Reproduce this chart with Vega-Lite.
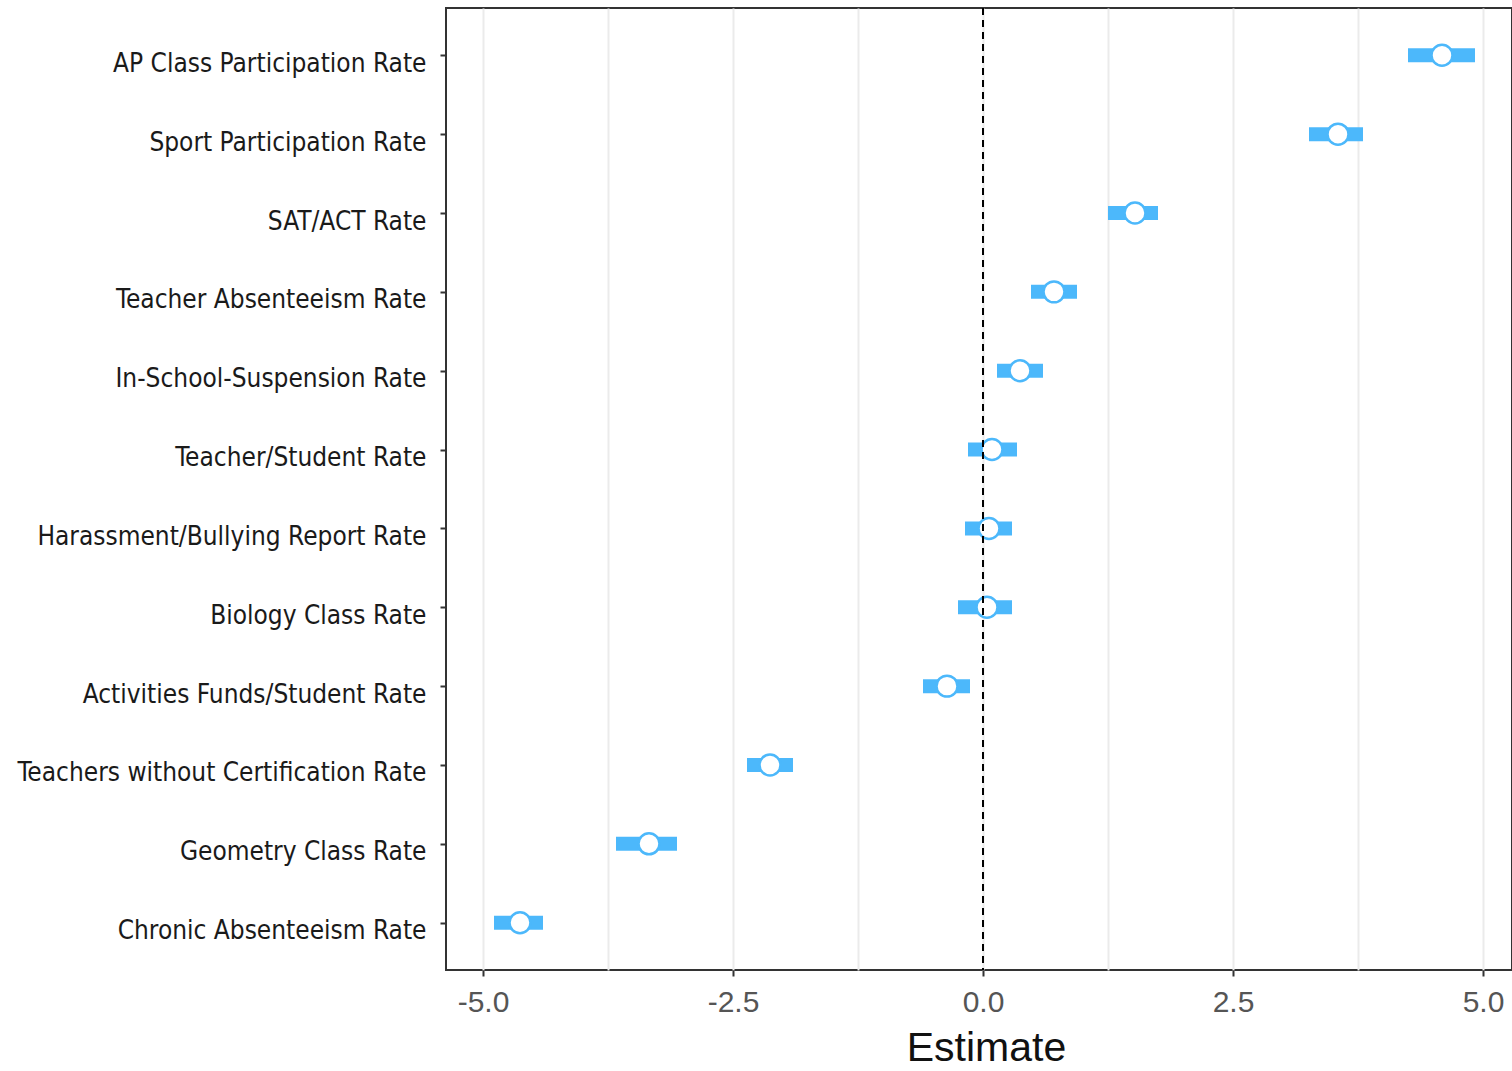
{
  "$schema": "https://vega.github.io/schema/vega-lite/v6.json",
  "autosize": {"type": "none"},
  "padding": {"left": 446, "top": 8, "right": 0, "bottom": 101},
  "width": 1066,
  "height": 962,
  "background": "white",
  "config": {
    "view": {"stroke": "#333333", "strokeWidth": 2}
  },
  "data": {
    "values": [
      {"variable": "AP Class Participation Rate", "estimate": 4.59, "lower": 4.25, "upper": 4.92},
      {"variable": "Sport Participation Rate", "estimate": 3.55, "lower": 3.26, "upper": 3.80},
      {"variable": "SAT/ACT Rate", "estimate": 1.52, "lower": 1.25, "upper": 1.75},
      {"variable": "Teacher Absenteeism Rate", "estimate": 0.71, "lower": 0.48, "upper": 0.94},
      {"variable": "In-School-Suspension Rate", "estimate": 0.37, "lower": 0.14, "upper": 0.60},
      {"variable": "Teacher/Student Rate", "estimate": 0.09, "lower": -0.15, "upper": 0.34},
      {"variable": "Harassment/Bullying Report Rate", "estimate": 0.06, "lower": -0.18, "upper": 0.29},
      {"variable": "Biology Class Rate", "estimate": 0.04, "lower": -0.25, "upper": 0.29},
      {"variable": "Activities Funds/Student Rate", "estimate": -0.36, "lower": -0.60, "upper": -0.13},
      {"variable": "Teachers without Certification Rate", "estimate": -2.13, "lower": -2.36, "upper": -1.90},
      {"variable": "Geometry Class Rate", "estimate": -3.34, "lower": -3.67, "upper": -3.06},
      {"variable": "Chronic Absenteeism Rate", "estimate": -4.63, "lower": -4.89, "upper": -4.40}
    ]
  },
  "encoding": {
    "y": {
      "field": "variable",
      "type": "nominal",
      "sort": null,
      "scale": {"type": "point", "padding": 0.6},
      "axis": {
        "title": null,
        "domain": false,
        "ticks": true,
        "tickSize": 6,
        "tickWidth": 2,
        "tickColor": "#333333",
        "labelFont": "DejaVu Sans Condensed",
        "labelFontSize": 26,
        "labelColor": "#1a1a1a",
        "labelPadding": 14,
        "labelOffset": 8,
        "labelLimit": 0,
        "grid": false
      }
    }
  },
  "layer": [
    {
      "mark": {"type": "rule", "strokeWidth": 14, "strokeCap": "butt", "color": "#4cb8fb"},
      "encoding": {
        "x": {
          "field": "lower",
          "type": "quantitative",
          "scale": {"domain": [-5.37, 5.29], "nice": false, "zero": false},
          "axis": {
            "title": "Estimate",
            "titleFont": "Liberation Sans",
            "titleFontSize": 41,
            "titleFontWeight": "normal",
            "titleColor": "#111111",
            "titlePadding": 11,
            "titleX": 540,
            "values": [-5, -3.75, -2.5, -1.25, 0, 1.25, 2.5, 3.75, 5],
            "format": ".1f",
            "labelExpr": "abs(datum.value % 2.5) > 0.01 ? '' : replace(datum.label, '\u2212', '-')",
            "labelFont": "Liberation Sans",
            "labelFontSize": 30,
            "labelColor": "#555555",
            "labelPadding": 11,
            "domain": false,
            "tickSize": 6,
            "tickWidth": 2,
            "tickColor": "#333333",
            "tickOpacity": {"condition": {"test": "abs(datum.value % 2.5) > 0.01", "value": 0}, "value": 1},
            "grid": true,
            "gridColor": "#ebebeb",
            "gridWidth": 2
          }
        },
        "x2": {"field": "upper"}
      }
    },
    {
      "mark": {"type": "point", "shape": "circle", "filled": true, "fill": "white", "stroke": "#4cb8fb", "strokeWidth": 2.5, "size": 440, "opacity": 1},
      "encoding": {
        "x": {"field": "estimate", "type": "quantitative"}
      }
    },
    {
      "mark": {"type": "rule", "color": "black", "strokeWidth": 2, "strokeDash": [7, 5]},
      "encoding": {
        "x": {"datum": 0, "type": "quantitative"},
        "y": {"value": 0},
        "y2": {"value": 962}
      }
    }
  ]
}
